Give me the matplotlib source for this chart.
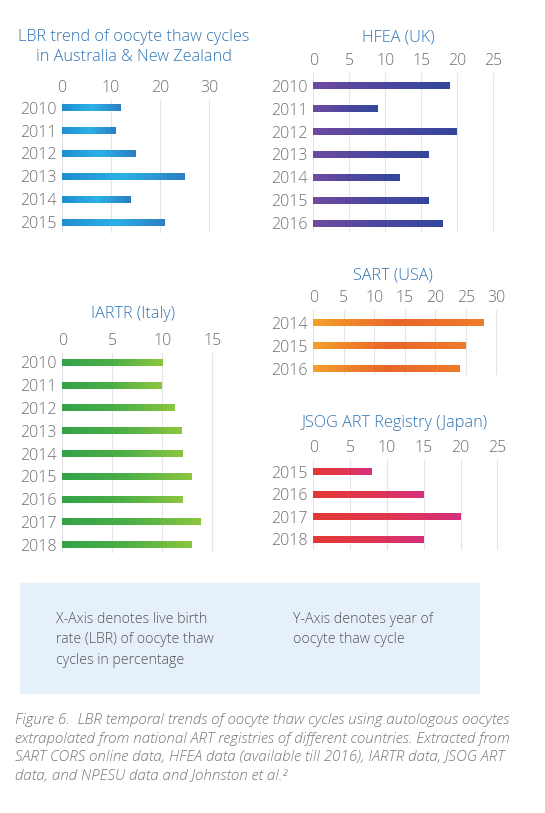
import numpy as np
import matplotlib

matplotlib.use("Agg")
import matplotlib.pyplot as plt
from matplotlib.colors import LinearSegmentedColormap
from matplotlib.patches import Rectangle

plt.rcParams["font.family"] = ["Open Sans", "DejaVu Sans"]

W, H = 545, 813

# --- data -----------------------------------------------------------------
anz_years = ["2010", "2011", "2012", "2013", "2014", "2015"]
anz_lbr = [12, 11, 15, 25, 14, 21]

hfea_years = ["2010", "2011", "2012", "2013", "2014", "2015", "2016"]
hfea_lbr = [19, 9, 20, 16, 12, 16, 18]

iartr_years = ["2010", "2011", "2012", "2013", "2014", "2015", "2016", "2017", "2018"]
iartr_lbr = [10, 9.9, 11.2, 11.9, 12, 13, 12, 13.9, 13]

sart_years = ["2014", "2015", "2016"]
sart_lbr = [28, 25, 24]

jsog_years = ["2015", "2016", "2017", "2018"]
jsog_lbr = [8, 15, 20, 15]

TITLE_C = "#2f74b5"
TICK_C = "#6e6e6e"
GRID_C = "#e4e4e8"


def panel(fig, years, vals, cols, ticks, x0, ppu, xmax, y1, sp, top, bot, title, tx, ty):
    n = len(years)
    left = x0
    right = x0 + ppu * xmax
    ytop = y1 - top * sp
    ybot = y1 + (n - 1) * sp + bot * sp
    ax = fig.add_axes([left / W, 1 - ybot / H, (right - left) / W, (ybot - ytop) / H])
    cmap = LinearSegmentedColormap.from_list("g", cols)
    grad = np.linspace(0, 1, 256).reshape(1, -1)
    h = 0.15
    for i, v in enumerate(vals):
        ax.imshow(grad, cmap=cmap, aspect="auto", extent=(0, v, i + h, i - h),
                  interpolation="bilinear", zorder=3)
    ax.set_xlim(0, xmax)
    ax.set_ylim(n - 1 + bot, -top)
    ax.set_xticks(ticks)
    ax.set_xticklabels([str(t) for t in ticks])
    ax.set_yticks(range(n))
    ax.set_yticklabels(years)
    ax.xaxis.tick_top()
    ax.tick_params(length=0, labelsize=11.5, colors=TICK_C)
    ax.tick_params(axis="x", pad=3)
    ax.tick_params(axis="y", pad=4)
    for lab in ax.get_xticklabels() + ax.get_yticklabels():
        lab.set_fontweight("light")
    for s in ax.spines.values():
        s.set_visible(False)
    ax.grid(axis="x", color=GRID_C, lw=0.8, zorder=0)
    ax.set_axisbelow(True)
    for line in title.split("\n"):
        fig.text(tx / W, 1 - ty / H, line, ha="center", va="center",
                 color=TITLE_C, fontsize=11.7, fontweight="light")
        ty += 20
    return ax


fig = plt.figure(figsize=(W / 100, H / 100), dpi=100)

panel(fig, anz_years, anz_lbr, ["#1f8dd0", "#2cb1e6", "#2b7fc3"], [0, 10, 20, 30],
      62, 4.9, 32, 107.7, 22.9, 0.34, 0.45,
      "LBR trend of oocyte thaw cycles\nin Australia & New Zealand", 134, 37)
panel(fig, hfea_years, hfea_lbr, ["#6e4b9e", "#4d46a0", "#33479c"], [0, 5, 10, 15, 20, 25],
      313.3, 7.2, 26, 85.7, 22.9, 0.55, 0.45, "HFEA (UK)", 398, 37)
panel(fig, iartr_years, iartr_lbr, ["#33a34a", "#4caf47", "#8dc63f"], [0, 5, 10, 15],
      62.3, 10, 16, 362.3, 22.8, 0.4, 0.35, "IARTR (Italy)", 133, 314)
panel(fig, sart_years, sart_lbr, ["#f5a02a", "#e9652a", "#ef7c2a"], [0, 5, 10, 15, 20, 25, 30],
      313.3, 6.1, 32, 322.7, 23, 0.55, 0.27, "SART (USA)", 393, 275)
panel(fig, jsog_years, jsog_lbr, ["#e53935", "#e0364f", "#d4307f"], [0, 5, 10, 15, 20, 25],
      313.3, 7.36, 26, 471.7, 22.5, 0.5, 0.47, "JSOG ART Registry (Japan)", 395, 423)

# note box
fig.patches.append(Rectangle((20 / W, 1 - 693 / H), 459 / W, 110 / H,
                             transform=fig.transFigure, color="#e6f0fa", zorder=0))
fig.text(56 / W, 1 - 612 / H,
         "X-Axis denotes live birth\nrate (LBR) of oocyte thaw\ncycles in percentage",
         ha="left", va="top", fontsize=10.15, color="#555555", linespacing=1.48,
         fontweight="light")
fig.text(293 / W, 1 - 612 / H, "Y-Axis denotes year of\noocyte thaw cycle",
         ha="left", va="top", fontsize=10.15, color="#555555", linespacing=1.48,
         fontweight="light")

caption = ("Figure 6.  LBR temporal trends of oocyte thaw cycles using autologous oocytes\n"
           "extrapolated from national ART registries of different countries. Extracted from\n"
           "SART CORS online data, HFEA data (available till 2016), IARTR data, JSOG ART\n"
           "data, and NPESU data and Johnston et al.\u00b2")
fig.text(15 / W, 1 - 713 / H, caption, ha="left", va="top", fontsize=10.9,
         style="italic", color="#777777", linespacing=1.42, fontweight="light")

fig.savefig("out.png", dpi=100, facecolor="white")
